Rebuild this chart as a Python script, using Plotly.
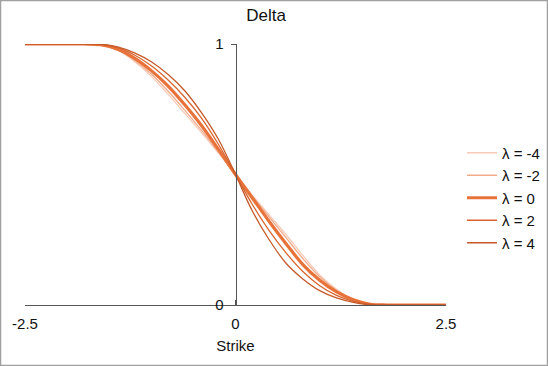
import plotly.graph_objects as go

# ---- data ----
strike = [-2.5, -2.0, -1.8, -1.6, -1.4, -1.2, -1.0, -0.8, -0.6, -0.4, -0.2,
          0.0, 0.2, 0.4, 0.6, 0.8, 1.0, 1.2, 1.4, 1.6, 1.8, 2.0, 2.5]

delta_m4 = [1, 1, 1, 0.997, 0.976, 0.933, 0.876, 0.807, 0.733, 0.659, 0.581,
            0.5, 0.420, 0.345, 0.270, 0.190, 0.115, 0.060, 0.022, 0.003, 0, 0, 0]
delta_m2 = [1, 1, 1, 0.997, 0.978, 0.938, 0.885, 0.819, 0.745, 0.668, 0.585,
            0.5, 0.417, 0.337, 0.258, 0.178, 0.108, 0.056, 0.021, 0.003, 0, 0, 0]
delta_0 = [1, 1, 1, 0.997, 0.980, 0.946, 0.898, 0.839, 0.766, 0.686, 0.595,
           0.5, 0.410, 0.320, 0.235, 0.155, 0.095, 0.050, 0.020, 0.003, 0, 0, 0]
delta_p2 = [1, 1, 1, 0.998, 0.986, 0.958, 0.917, 0.862, 0.795, 0.714, 0.614,
            0.5, 0.385, 0.285, 0.200, 0.128, 0.074, 0.037, 0.014, 0.002, 0, 0, 0]
delta_p4 = [1, 1, 1, 0.999, 0.989, 0.966, 0.932, 0.883, 0.820, 0.735, 0.633,
            0.5, 0.360, 0.250, 0.160, 0.100, 0.055, 0.027, 0.010, 0.001, 0, 0, 0]

labels = ["λ = -4", "λ = -2", "λ = 0", "λ = 2", "λ = 4"]
series = [delta_m4, delta_m2, delta_0, delta_p2, delta_p4]
colors = ["#F7CBB8", "#F2AA8A", "#E8733A", "#D9652E", "#C65A28"]
widths = [1.3, 1.3, 3.2, 1.3, 1.3]

x_ticks = [-2.5, 0, 2.5]
x_tick_text = ["-2.5", "0", "2.5"]
y_ticks = [0, 1]
y_tick_text = ["0", "1"]

FONT = "Liberation Sans, Arial, sans-serif"

fig = go.Figure()
for name, ys, c, w in zip(labels, series, colors, widths):
    fig.add_trace(go.Scatter(
        x=strike, y=ys, mode="lines", name=name,
        line=dict(color=c, width=w, shape="spline", smoothing=1.0),
    ))

W, H = 548, 366
ml, mr, mt, mb = 25, 102, 44, 61
pw, ph = W - ml - mr, H - mt - mb

fig.update_layout(
    width=W, height=H,
    margin=dict(l=ml, r=mr, t=mt, b=mb, autoexpand=False),
    paper_bgcolor="white", plot_bgcolor="white",
    font=dict(family=FONT, size=15, color="#111111"),
    title=dict(text="Delta", x=266 / W, xanchor="center",
               y=1 - 15 / H, yanchor="middle",
               font=dict(family=FONT, size=17, color="#111111")),
    showlegend=True,
    legend=dict(x=(462 - ml) / pw, xanchor="left", y=(305 - 198) / ph,
                yanchor="middle", font=dict(family=FONT, size=15),
                bgcolor="rgba(0,0,0,0)", itemwidth=30),
    xaxis=dict(range=[-2.5, 2.5], tickvals=x_ticks, ticktext=x_tick_text,
               showgrid=False, zeroline=False, showline=True,
               linecolor="#555555", linewidth=1,
               ticks="inside", ticklen=5, tickcolor="#555555",
               ticklabelstandoff=5,
               title=dict(text="Strike", standoff=9,
                          font=dict(family=FONT, size=15))),
    yaxis=dict(range=[0, 1], tickvals=y_ticks, ticktext=y_tick_text,
               showgrid=False, zeroline=False, showline=True,
               linecolor="#555555", linewidth=1,
               ticks="outside", ticklen=5, tickcolor="#555555",
               ticklabelstandoff=4,
               anchor="free", position=0.5),
    shapes=[dict(type="rect", xref="paper", yref="paper",
                 x0=(0.5 - ml) / pw, x1=(W - 0.5 - ml) / pw,
                 y0=-(mb - 0.5) / ph, y1=1 + (mt - 0.5) / ph,
                 line=dict(color="#A0A0A0", width=1.5), layer="below")],
)

fig.write_html("out.html",
               config={"displayModeBar": False},
               post_script="document.body.style.margin='0px';"
                           "document.body.style.overflow='hidden';")
